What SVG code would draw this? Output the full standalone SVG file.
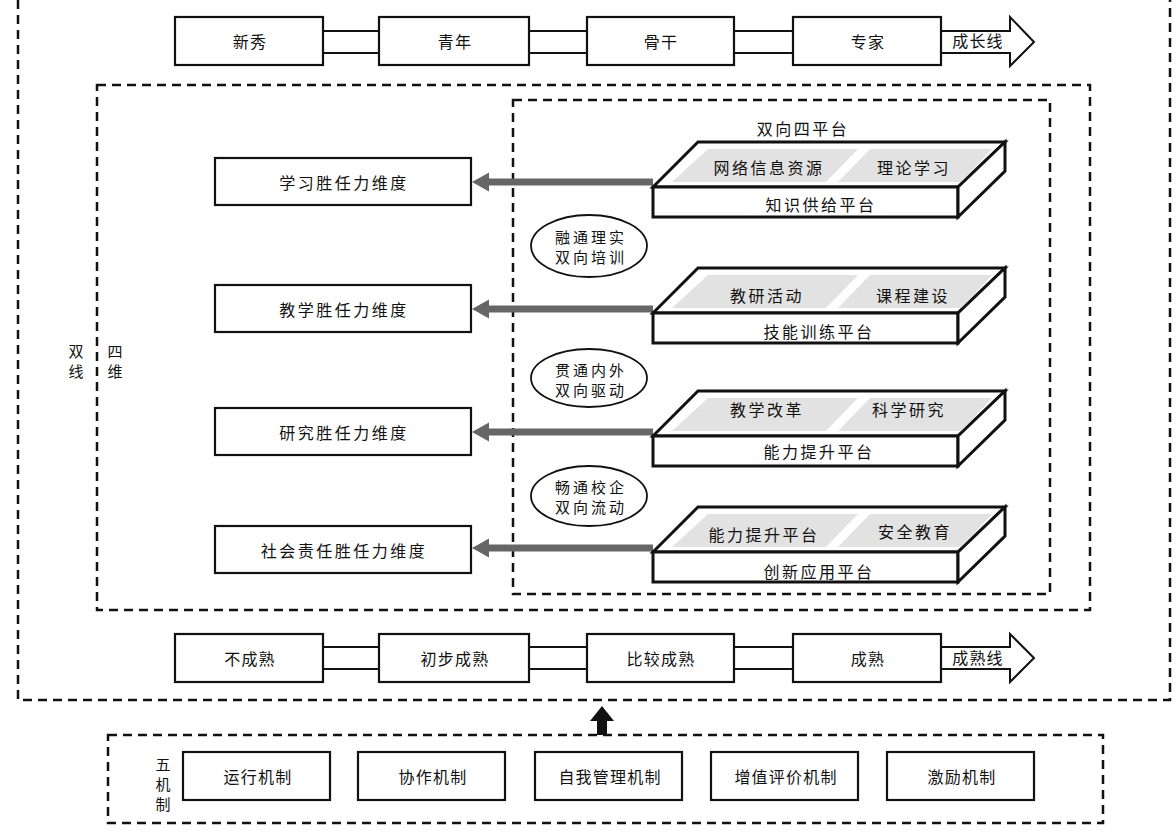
<svg xmlns="http://www.w3.org/2000/svg" width="1176" height="834" viewBox="0 0 1176 834">
<style>
text{font-family:"Noto Sans CJK SC","Noto Sans",sans-serif;font-size:16px;fill:#111;text-anchor:middle;dominant-baseline:central;letter-spacing:2.5px}
.n{letter-spacing:1.2px}
.s{font-size:15px;letter-spacing:3px}
.v{font-size:15px;letter-spacing:0}
.dash{fill:none;stroke:#111;stroke-width:2.5;stroke-dasharray:9 6}
.box{fill:#fff;stroke:#111;stroke-width:2.2}
.pl{fill:#fff;stroke:#111;stroke-width:3;stroke-linejoin:miter}
.gf{fill:#e2e2e2}
.ln{stroke:#111;stroke-width:2;fill:none}
.garrow{fill:#666}
.ell{fill:#fff;stroke:#111;stroke-width:1.8}
</style>
<rect width="1176" height="834" fill="#fff"/>
<rect class="dash" x="18" y="-10" width="1152" height="710"/>
<rect class="dash" x="97" y="85" width="993" height="525"/>
<rect class="dash" x="513" y="100" width="537" height="494"/>
<rect class="dash" x="108" y="735" width="995" height="88"/>

<g id="connectors">
<g id="growth-line">
<path class="ln" d="M323,31H379M323,53H379M529,31H587M529,53H587M734,31H793M734,53H793"/>
<path class="ln" fill="#fff" d="M941,31H1010V17L1034,42L1010,66V53H941"/>
</g>
<g id="maturity-line">
<path class="ln" d="M323,647H379M323,669H379M529,647H587M529,669H587M734,647H793M734,669H793"/>
<path class="ln" fill="#fff" d="M941,647H1010V634L1034,658L1010,682V669H941"/>
</g>
<path class="garrow" d="M653,178.5V185.5H489V191.5L472,182L489,172.5V178.5z"/>
<path class="garrow" d="M653,305.5V312.5H489V318.5L472,309L489,299.5V305.5z"/>
<path class="garrow" d="M653,428.5V435.5H489V441.5L472,432L489,422.5V428.5z"/>
<path class="garrow" d="M653,544.5V551.5H489V557.5L472,548L489,538.5V544.5z"/>
<path d="M597,735V720H607V735z M590,721L602,706L614,721z" fill="#111"/>
</g>

<g id="top-row">
<g id="xinxiu"><rect class="box" x="175" y="17" width="148" height="48"/><text class="n" x="250" y="41">新秀</text></g>
<g id="qingnian"><rect class="box" x="379" y="17" width="150" height="48"/><text class="n" x="455" y="41">青年</text></g>
<g id="gugan"><rect class="box" x="587" y="17" width="147" height="48"/><text class="n" x="661" y="41">骨干</text></g>
<g id="zhuanjia"><rect class="box" x="793" y="17" width="148" height="48"/><text class="n" x="868" y="41">专家</text></g>
<text class="n" x="978" y="40">成长线</text>
</g>

<g id="bottom-row">
<g id="bu"><rect class="box" x="175" y="634" width="148" height="48"/><text class="n" x="250" y="658">不成熟</text></g>
<g id="chubu"><rect class="box" x="379" y="634" width="150" height="48"/><text class="n" x="455" y="658">初步成熟</text></g>
<g id="bijiao"><rect class="box" x="587" y="634" width="147" height="48"/><text class="n" x="661" y="658">比较成熟</text></g>
<g id="chengshu"><rect class="box" x="793" y="634" width="148" height="48"/><text class="n" x="868" y="658">成熟</text></g>
<text class="n" x="978" y="657">成熟线</text>
</g>

<g id="side-labels">
<text class="v" x="76" y="350">双</text><text class="v" x="76" y="370">线</text>
<text class="v" x="115" y="350">四</text><text class="v" x="115" y="370">维</text>
<text x="803" y="128">双向四平台</text>
</g>

<g id="dim1"><rect class="box" x="215" y="158" width="256" height="47"/><text x="344" y="182">学习胜任力维度</text></g>
<g id="dim2"><rect class="box" x="215" y="285" width="256" height="47"/><text x="344" y="309">教学胜任力维度</text></g>
<g id="dim3"><rect class="box" x="215" y="408" width="256" height="47"/><text x="344" y="432">研究胜任力维度</text></g>
<g id="dim4"><rect class="box" x="215" y="526" width="256" height="47"/><text x="344" y="550">社会责任胜任力维度</text></g>

<g id="ell1"><ellipse class="ell" cx="589" cy="246" rx="58" ry="31"/><text class="s" x="591" y="236">融通理实</text><text class="s" x="591" y="256">双向培训</text></g>
<g id="ell2"><ellipse class="ell" cx="589" cy="378" rx="58" ry="29"/><text class="s" x="591" y="369">贯通内外</text><text class="s" x="591" y="389">双向驱动</text></g>
<g id="ell3"><ellipse class="ell" cx="589" cy="496" rx="58" ry="30"/><text class="s" x="591" y="486">畅通校企</text><text class="s" x="591" y="506">双向流动</text></g>

<g id="platform1" transform="translate(0,142)">
<path class="pl" d="M653,45L698,0H1005L958,45z"/>
<path class="gf" d="M672,40L708,7H858L826,40z M838,40L870,7H992L962,40z"/>
<rect class="pl" x="653" y="45" width="305" height="30"/>
<path class="pl" d="M958,45L1005,0V29L958,75z"/>
<text x="769" y="25">网络信息资源</text><text x="914" y="25">理论学习</text>
<text x="821" y="62">知识供给平台</text>
</g>
<g id="platform2" transform="translate(0,268)">
<path class="pl" d="M653,45L698,0H1005L958,45z"/>
<path class="gf" d="M672,40L708,7H858L826,40z M838,40L870,7H992L962,40z"/>
<rect class="pl" x="653" y="45" width="305" height="30"/>
<path class="pl" d="M958,45L1005,0V29L958,75z"/>
<text x="767" y="27">教研活动</text><text x="913" y="27">课程建设</text>
<text x="819" y="63">技能训练平台</text>
</g>
<g id="platform3" transform="translate(0,391)">
<path class="pl" d="M653,45L698,0H1005L958,45z"/>
<path class="gf" d="M672,40L708,7H858L826,40z M838,40L870,7H992L962,40z"/>
<rect class="pl" x="653" y="45" width="305" height="30"/>
<path class="pl" d="M958,45L1005,0V29L958,75z"/>
<text x="767" y="18">教学改革</text><text x="909" y="18">科学研究</text>
<text x="819" y="60">能力提升平台</text>
</g>
<g id="platform4" transform="translate(0,507)">
<path class="pl" d="M653,45L698,0H1005L958,45z"/>
<path class="gf" d="M672,40L708,7H858L826,40z M838,40L870,7H992L962,40z"/>
<rect class="pl" x="653" y="45" width="305" height="30"/>
<path class="pl" d="M958,45L1005,0V29L958,75z"/>
<text x="764" y="27">能力提升平台</text><text x="915" y="24">安全教育</text>
<text x="819" y="64">创新应用平台</text>
</g>

<g id="mechanisms">
<text class="v" x="163" y="763">五</text><text class="v" x="163" y="783">机</text><text class="v" x="163" y="803">制</text>
<g id="m1"><rect class="box" x="183" y="752" width="147" height="48"/><text class="n" x="258" y="776">运行机制</text></g>
<g id="m2"><rect class="box" x="358" y="752" width="147" height="48"/><text class="n" x="433" y="776">协作机制</text></g>
<g id="m3"><rect class="box" x="535" y="752" width="147" height="48"/><text class="n" x="610" y="776">自我管理机制</text></g>
<g id="m4"><rect class="box" x="711" y="752" width="147" height="48"/><text class="n" x="786" y="776">增值评价机制</text></g>
<g id="m5"><rect class="box" x="887" y="752" width="147" height="48"/><text class="n" x="962" y="776">激励机制</text></g>
</g>
</svg>
